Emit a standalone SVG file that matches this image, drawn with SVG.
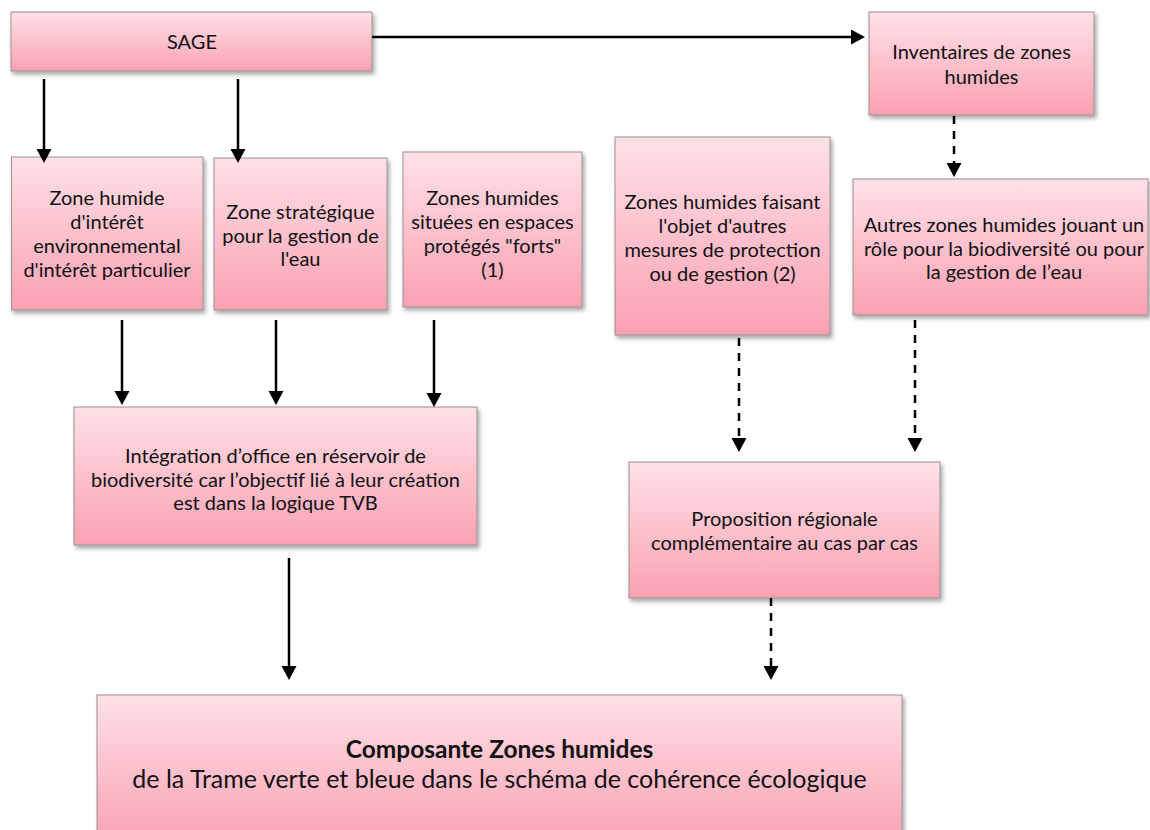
<svg xmlns="http://www.w3.org/2000/svg" width="1150" height="830" viewBox="0 0 1150 830">
<defs>
<linearGradient id="pink" x1="0" y1="0" x2="0" y2="1">
<stop offset="0" stop-color="#FFE1E7"/>
<stop offset="1" stop-color="#FAA1B3"/>
</linearGradient>
<filter id="sh" x="-5%" y="-5%" width="115%" height="120%">
<feDropShadow dx="2" dy="3" stdDeviation="2" flood-color="#000" flood-opacity="0.35"/>
</filter>
<marker id="ah" markerUnits="userSpaceOnUse" markerWidth="15" markerHeight="16" refX="1" refY="7.5" orient="auto">
<path d="M0,0 L14,7.5 L0,15 z" fill="#000"/>
</marker>
</defs>
<style>
.box{fill:url(#pink);stroke:#9a8f91;stroke-width:1;filter:url(#sh)}
.t{font-family:Lato,"Liberation Sans",Arial,sans-serif;font-size:20px;fill:#111;text-anchor:middle}
.b{font-weight:bold;font-size:24.5px}
.big{font-size:25px}
.c{stroke:#000;stroke-width:2.5;fill:none;marker-end:url(#ah)}
.d{stroke-dasharray:8 7}
</style>
<rect width="1150" height="830" fill="#fff"/>

<g id="n-sage">
<rect class="box" x="11" y="12" width="361" height="59"/>
<text class="t" x="192" y="49">SAGE</text>
</g>
<g id="n-inventaires">
<rect class="box" x="869" y="12" width="225" height="103"/>
<text class="t" x="981.5" y="59">Inventaires de zones</text>
<text class="t" x="981.5" y="83.5">humides</text>
</g>
<g id="n-zh-interet">
<rect class="box" x="11.5" y="157" width="191.5" height="153"/>
<text class="t" x="107" y="205">Zone humide</text>
<text class="t" x="107" y="229">d'intérêt</text>
<text class="t" x="107" y="253">environnemental</text>
<text class="t" x="107" y="277">d'intérêt particulier</text>
</g>
<g id="n-zone-strategique">
<rect class="box" x="214" y="158" width="173" height="152"/>
<text class="t" x="300.5" y="219">Zone stratégique</text>
<text class="t" x="300.5" y="242.5">pour la gestion de</text>
<text class="t" x="300.5" y="266">l'eau</text>
</g>
<g id="n-espaces-proteges">
<rect class="box" x="403" y="152" width="179" height="155"/>
<text class="t" x="492.5" y="205">Zones humides</text>
<text class="t" x="492.5" y="229">situées en espaces</text>
<text class="t" x="492.5" y="253">protégés "forts"</text>
<text class="t" x="492.5" y="277">(1)</text>
</g>
<g id="n-autres-mesures">
<rect class="box" x="615" y="137" width="215" height="198"/>
<text class="t" x="722.5" y="208.5">Zones humides faisant</text>
<text class="t" x="722.5" y="232.5">l'objet d'autres</text>
<text class="t" x="722.5" y="256.5">mesures de protection</text>
<text class="t" x="722.5" y="280.5">ou de gestion (2)</text>
</g>
<g id="n-autres-zh">
<rect class="box" x="853" y="179" width="295" height="136"/>
<text class="t" x="1004" y="232">Autres zones humides jouant un</text>
<text class="t" x="1004" y="256">rôle pour la biodiversité ou pour</text>
<text class="t" x="1004" y="279">la gestion de l’eau</text>
</g>
<g id="n-integration">
<rect class="box" x="74" y="407" width="403" height="138"/>
<text class="t" x="275.5" y="463">Intégration d’office en réservoir de</text>
<text class="t" x="275.5" y="487">biodiversité car l’objectif lié à leur création</text>
<text class="t" x="275.5" y="510">est dans la logique TVB</text>
</g>
<g id="n-proposition">
<rect class="box" x="629" y="462" width="311" height="136"/>
<text class="t" x="784.5" y="526">Proposition régionale</text>
<text class="t" x="784.5" y="550">complémentaire au cas par cas</text>
</g>
<g id="n-composante">
<rect class="box" x="97" y="695" width="805" height="150"/>
<text class="t b" x="499.5" y="758">Composante Zones humides</text>
<text class="t big" x="499.5" y="788">de la Trame verte et bleue dans le schéma de cohérence écologique</text>
</g>

<g id="connectors">
<line class="c" x1="44" y1="79" x2="44" y2="150"/>
<line class="c" x1="238" y1="79" x2="238" y2="150"/>
<line class="c" x1="372" y1="37" x2="852" y2="37"/>
<line class="c" x1="122" y1="320" x2="122" y2="392"/>
<line class="c" x1="276" y1="320" x2="276" y2="392"/>
<line class="c" x1="434" y1="320" x2="434" y2="394"/>
<line class="c d" x1="954" y1="116" x2="954" y2="164"/>
<line class="c d" x1="739" y1="338" x2="739" y2="439"/>
<line class="c d" x1="915" y1="320" x2="915" y2="439"/>
<line class="c" x1="289" y1="558" x2="289" y2="667"/>
<line class="c d" x1="771" y1="598" x2="771" y2="667"/>
</g>
</svg>
